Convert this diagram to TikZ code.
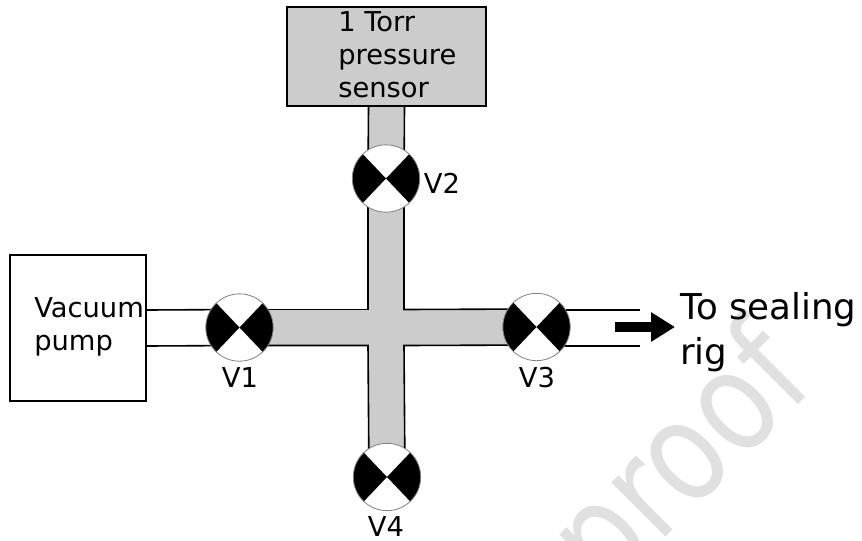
\documentclass[tikz,border=0pt]{standalone}
\usepackage{fontspec}
\usepackage{graphicx}
\setmainfont{DejaVu Sans}
\usetikzlibrary{arrows.meta,backgrounds}
\definecolor{pipegray}{HTML}{CCCCCC}
\definecolor{markgray}{HTML}{E0E0E0}
\tikzset{
  valve/.style={circle,draw=gray,line width=0.6pt,fill=white,minimum size=50.5pt,inner sep=0pt,
    path picture={
      \fill[black] (path picture bounding box.center) -- +(-40pt,42pt) -- +(-40pt,-42pt) -- cycle;
      \fill[black] (path picture bounding box.center) -- +(40pt,42pt) -- +(40pt,-42pt) -- cycle;
    }},
  device/.style={rectangle,draw=black,line width=1.1pt,inner sep=0pt},
  tag/.style={inner sep=0pt,font=\fontsize{20.5}{24.75}\selectfont,align=left},
  wall/.style={draw=black,line width=1.2pt}
}

\begin{document}
\begin{tikzpicture}[x=0.75pt,y=-0.75pt]
  \useasboundingbox (0,0) rectangle (862,540);

  % devices
  \node[device,fill=pipegray,minimum width=149.5pt,minimum height=74.5pt] (sensor) at (386.5,56.5) {};
  \node[device,fill=white,minimum width=102pt,minimum height=109.5pt] (pump) at (78,328) {};

  % valves
  \node[valve] (v1) at (239.5,327.5) {};
  \node[valve] (v2) at (386,178.5) {};
  \node[valve] (v3) at (536.5,327) {};
  \node[valve] (v4) at (387,477) {};
  \coordinate (hub) at (386,327.5);
  \coordinate (railtop) at (640,310);
  \coordinate (railbot) at (640,346);
  \coordinate (flowtail) at (615,327);
  \coordinate (flowhead) at (675,327);

  % labels
  \node[tag,anchor=base west] (sensortext) at (338,97) {1 Torr\\pressure\\sensor};
  \node[tag,anchor=base west] (pumptext) at (34,350) {Vacuum\\pump};
  \node[tag] (v1text) at (240,378) {V1};
  \node[tag] (v2text) at (442,183) {V2};
  \node[tag] (v3text) at (537,378) {V3};
  \node[tag] (v4text) at (386,527) {V4};
  \node[inner sep=0pt,anchor=base west,font=\fontsize{26.7}{33.5}\selectfont,align=left] (rigtext) at (680,364) {To sealing\\rig};

  \begin{scope}[on background layer]
    % watermark
    \clip (0,0) rectangle (862,540);
    \node[text=markgray,rotate=45,anchor=base,font=\fontsize{105}{105}\selectfont,inner sep=0pt] (mark) at (712,491) {\scalebox{0.82}[1]{proof}};

    % pipe cross
    \fill[pipegray] ([xshift=-13.5pt]sensor.south) -- ([xshift=13.5pt]sensor.south)
      -- ([xshift=13.5pt]v4.center) -- ([xshift=-13.5pt]v4.center) -- cycle;
    \fill[pipegray] ([yshift=13.5pt]v1.center) -- ([yshift=13.5pt]v3.center)
      -- ([yshift=-13.5pt]v3.center) -- ([yshift=-13.5pt]v1.center) -- cycle;
    \draw[wall] ([xshift=-13.5pt]sensor.south) -- ([xshift=-13.5pt]v2.center);
    \draw[wall] ([xshift=13.5pt]sensor.south) -- ([xshift=13.5pt]v2.center);
    \draw[wall] ([xshift=-13.5pt]v2.center) -- ([shift={(-13.5pt,13.5pt)}]hub) -- ([yshift=13.5pt]v1.center);
    \draw[wall] ([xshift=13.5pt]v2.center) -- ([shift={(13.5pt,13.5pt)}]hub) -- ([yshift=13.5pt]v3.center);
    \draw[wall] ([xshift=-13.5pt]v4.center) -- ([shift={(-13.5pt,-13.5pt)}]hub) -- ([yshift=-13.5pt]v1.center);
    \draw[wall] ([xshift=13.5pt]v4.center) -- ([shift={(13.5pt,-13.5pt)}]hub) -- ([yshift=-13.5pt]v3.center);

    % open lines
    \draw[wall] ([yshift=13.5pt]pump.east) -- ([yshift=13.5pt]v1.center);
    \draw[wall] ([yshift=-13.5pt]pump.east) -- ([yshift=-13.5pt]v1.center);
    \draw[wall] (v3.center |- railtop) -- (railtop);
    \draw[wall] (v3.center |- railbot) -- (railbot);
  \end{scope}

  \draw[-{Triangle[length=18pt,width=21pt]},line width=7.5pt] (flowtail) -- (flowhead);
\end{tikzpicture}
\end{document}
